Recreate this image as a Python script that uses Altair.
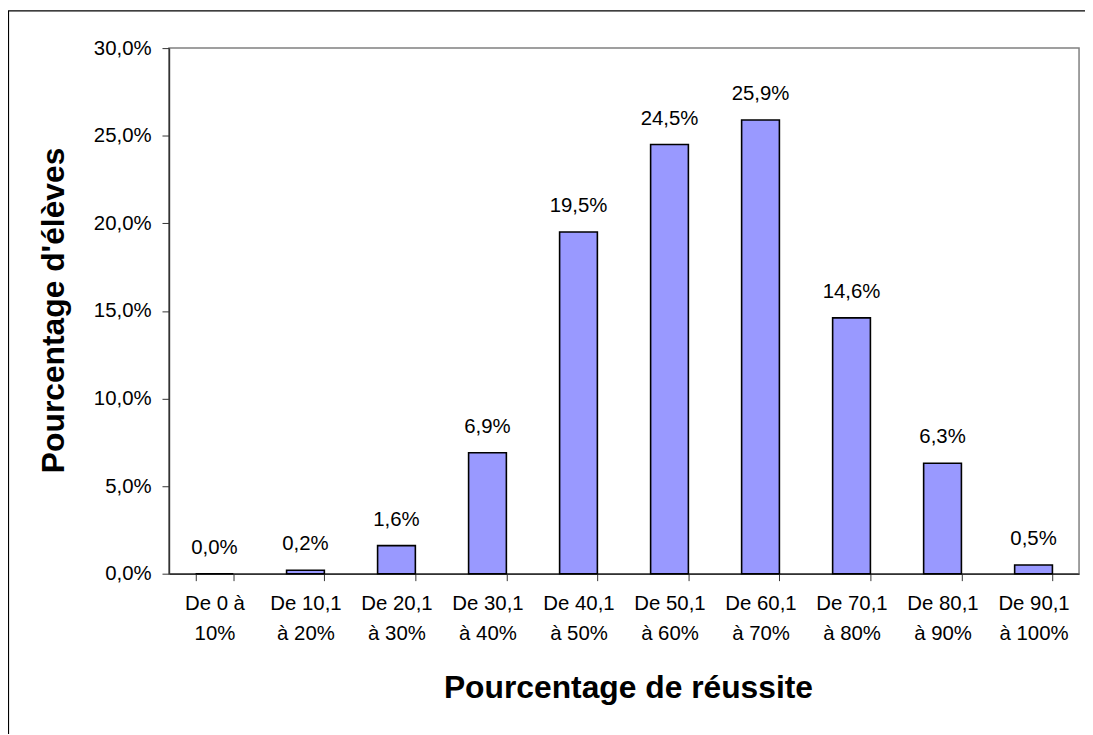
import altair as alt
import pandas as pd

categories = [
    "De 0 à|10%", "De 10,1|à 20%", "De 20,1|à 30%", "De 30,1|à 40%",
    "De 40,1|à 50%", "De 50,1|à 60%", "De 60,1|à 70%", "De 70,1|à 80%",
    "De 80,1|à 90%", "De 90,1|à 100%",
]
values = [0.0, 0.2, 1.6, 6.9, 19.5, 24.5, 25.9, 14.6, 6.3, 0.5]
y_ticks = [0, 5, 10, 15, 20, 25, 30]

df = pd.DataFrame({"cat": categories, "v": values})

FONT = "Liberation Sans"
W, H = 916, 529

x_enc = alt.X(
    "cat:N", sort=None,
    scale=alt.Scale(paddingInner=0.585, paddingOuter=0.2925),
    axis=alt.Axis(
        title="Pourcentage de réussite",
        labelExpr="isValid(datum.value) ? split(datum.value, '|') : ''",
        labelAngle=0, labelFontSize=20.5, labelFont=FONT, labelColor="black",
        labelLineHeight=30, labelPadding=13, labelBaseline="top",
        tickBand="extent", tickSize=7, tickColor="#333333", tickWidth=1,
        domainColor="#333333", domainWidth=1.5,
        titleFont=FONT, titleFontSize=32, titleFontWeight="bold", titleColor="black",
        titleX=W / 2 + 4, titleY=125, titleBaseline="alphabetic", titleAnchor="middle",
        titleAlign="center",
    ),
)
y_enc = alt.Y(
    "v:Q",
    scale=alt.Scale(domain=[0, 30], nice=False),
    axis=alt.Axis(
        title="Pourcentage d'élèves",
        values=y_ticks,
        labelExpr="replace(format(datum.value, '.1f'), '.', ',') + '%'",
        labelFontSize=20.5, labelFont=FONT, labelColor="black", labelPadding=11,
        tickSize=7, tickColor="#333333", tickWidth=1,
        domainColor="#333333", domainWidth=1.5, grid=False,
        titleFont=FONT, titleFontSize=32, titleFontWeight="bold", titleColor="black",
        titleAngle=-90, titleX=-106, titleY=H / 2 - 1, titleBaseline="alphabetic",
        titleAlign="center",
    ),
)

base = alt.Chart(df)

bars = base.mark_bar(color="#9999FF", stroke="black", strokeWidth=1.6).encode(
    x=x_enc, y=y_enc
)

labels = base.transform_calculate(
    lbl="replace(format(datum.v, '.1f'), '.', ',') + '%'"
).mark_text(
    font=FONT, fontSize=20.5, color="black", baseline="alphabetic", align="center", dy=-20
).encode(x=x_enc, y=y_enc, text="lbl:N")

frame = alt.Chart(alt.InlineData(values=[{"a": 1}])).mark_rect(
    fill=None, stroke="black", strokeWidth=1.2
).encode(
    x=alt.value(-161.5), x2=alt.value(1200),
    y=alt.value(-37.5), y2=alt.value(900),
)

chart = alt.layer(frame, bars, labels).properties(
    width=W, height=H,
    autosize=alt.AutoSizeParams(type="none"),
    padding={"left": 162, "top": 38, "right": 6, "bottom": 159},
).configure_view(stroke="#808080", strokeWidth=1.5)

chart.save("out.html", embed_options={"renderer": "svg", "actions": False})
